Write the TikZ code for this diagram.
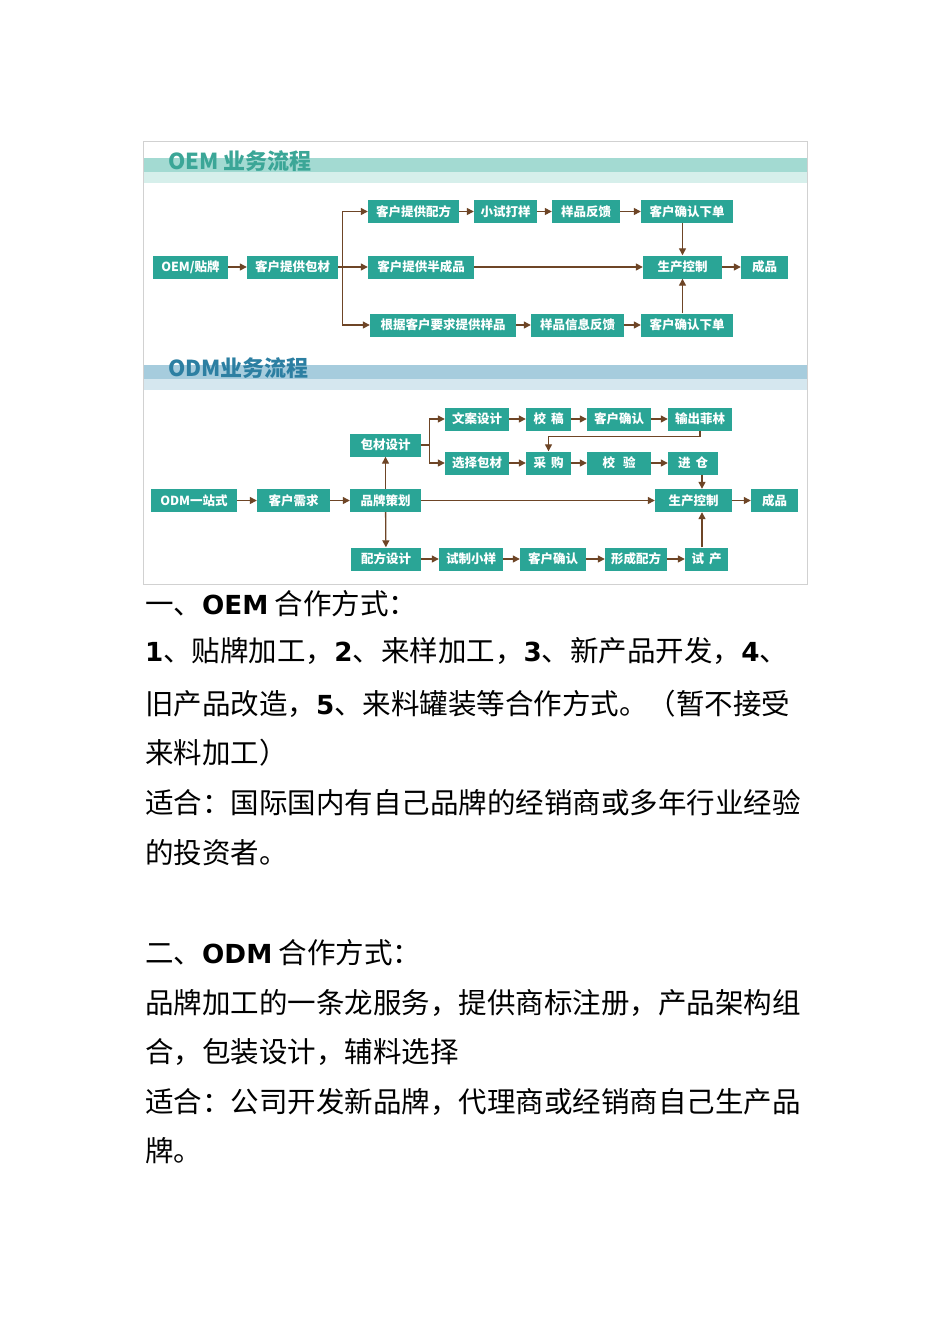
\documentclass[tikz,border=0pt]{standalone}
\usepackage{fontspec}
\setmainfont{Noto Sans CJK SC}
\newfontfamily\numfont{DejaVu Sans}[Scale=0.92]
\usetikzlibrary{arrows.meta}
\definecolor{boxteal}{HTML}{2AA596}
\definecolor{flowbrown}{HTML}{6E4526}
\definecolor{oemband}{HTML}{A3DAD2}
\definecolor{oemlight}{HTML}{D6EFEB}
\definecolor{odmband}{HTML}{A6CCDD}
\definecolor{odmlight}{HTML}{D5E7EF}
\definecolor{oemtitle}{HTML}{3BA697}
\definecolor{odmtitle}{HTML}{2C7FA2}
\tikzset{
  procbox/.style={fill=boxteal, text=white, inner sep=0pt, minimum height=23pt,
    font=\fontsize{12.5}{12.5}\selectfont\bfseries},
  flowline/.style={flowbrown, line width=1.3pt},
  flow/.style={flowline, -{Triangle[length=7pt,width=7pt]}},
  bandtitle/.style={anchor=west, inner sep=0pt, font=\fontsize{22}{22}\selectfont\bfseries},
  bodyline/.style={anchor=base west, inner sep=0pt, font=\fontsize{28.5}{30}\selectfont},
}
\newcommand{\bnum}[1]{{\numfont\bfseries #1}}

\begin{document}
\begin{tikzpicture}[x=1pt, y=-1pt]
    \useasboundingbox[fill=white] (0,0) rectangle (950,1344);
    \draw[black!18] (143,141) rectangle (807,584);

    % OEM flow
    \fill[oemband] (143.5,158) rectangle (806.5,172);
    \fill[oemlight] (143.5,172) rectangle (806.5,183);
    \node[bandtitle, text=oemtitle] (oem-title) at (168,161) {OEM 业务流程};

    \node[procbox, minimum width=75pt] (oem) at (190.5,267) {OEM/贴牌};
    \foreach \name/\x/\y/\w/\txt in {
        baocai/292.5/267/91/客户提供包材,
        peifang/413.5/211.5/91/客户提供配方,
        xiaoshi/505.5/211.5/63/小试打样,
        fankui/586/211.5/68/样品反馈,
        queren-1/687/211.5/92/客户确认下单,
        banchengpin/421/267/106/客户提供半成品,
        shengchan-1/682.5/267/79/生产控制,
        chengpin-1/764.5/267/47/成品,
        yangpin/443/325/146/根据客户要求提供样品,
        xinxi/577.5/325/93/样品信息反馈,
        queren-2/687/325/92/客户确认下单}
        \node[procbox, minimum width=\w pt] (\name) at (\x,\y) {\txt};

    \draw[flow] (oem) -- (baocai);
    \draw[flowline] (baocai.east) -- ++(4,0) coordinate (oem-split);
    \draw[flowline] (oem-split |- peifang) -- (oem-split |- yangpin);
    \foreach \target in {peifang,banchengpin,yangpin}
        \draw[flow] (oem-split |- \target) -- (\target);
    \draw[flow] (peifang) -- (xiaoshi);
    \draw[flow] (xiaoshi) -- (fankui);
    \draw[flow] (fankui) -- (queren-1);
    \draw[flow] (yangpin) -- (xinxi);
    \draw[flow] (xinxi) -- (queren-2);
    \draw[flow] (shengchan-1 |- queren-1.south) -- (shengchan-1.north);
    \draw[flow] (shengchan-1 |- queren-2.north) -- (shengchan-1.south);
    \draw[flow] (banchengpin) -- (shengchan-1);
    \draw[flow] (shengchan-1) -- (chengpin-1);

    % ODM flow
    \fill[odmband] (143.5,365) rectangle (806.5,379);
    \fill[odmlight] (143.5,379) rectangle (806.5,390);
    \node[bandtitle, text=odmtitle] (odm-title) at (168,368) {ODM业务流程};

    \foreach \name/\x/\y/\w/\txt in {
        odm/194/500.5/86/ODM一站式,
        xuqiu/293.5/500.5/73/客户需求,
        cehua/385.5/500.5/71/品牌策划,
        baocaisheji/385.5/445/71/包材设计,
        wenan/477/419/64/文案设计,
        jiaogao/548.5/419/45/校\hspace{5pt}稿,
        queren-3/619/419/64/客户确认,
        feilin/700/419/64/输出菲林,
        xuanze/477/463/64/选择包材,
        caigou/548.5/463/45/采\hspace{5pt}购,
        jiaoyan/619/463/64/校\hspace{8pt}验,
        jincang/693/463/50/进\hspace{5pt}仓,
        shengchan-2/693.5/500.5/77/生产控制,
        chengpin-2/774.5/500.5/47/成品,
        peifangsj/386/559/70/配方设计,
        shizhi/471/559/64/试制小样,
        queren-4/553/559/66/客户确认,
        xingcheng/636/559/62/形成配方,
        shichan/706.5/559/43/试\hspace{5pt}产}
        \node[procbox, minimum width=\w pt] (\name) at (\x,\y) {\txt};

    \draw[flow] (odm) -- (xuqiu);
    \draw[flow] (xuqiu) -- (cehua);
    \draw[flow] (cehua) -- (baocaisheji);
    \draw[flow] (cehua) -- (peifangsj);
    \draw[flowline] (baocaisheji.east) -- ++(8,0) coordinate (odm-split);
    \draw[flowline] (odm-split |- wenan) -- (odm-split |- xuanze);
    \draw[flow] (odm-split |- wenan) -- (wenan);
    \draw[flow] (odm-split |- xuanze) -- (xuanze);
    \draw[flow] (wenan) -- (jiaogao);
    \draw[flow] (jiaogao) -- (queren-3);
    \draw[flow] (queren-3) -- (feilin);
    \draw[flow] (feilin.south) -- ++(0,6) -| (caigou.north);
    \draw[flow] (xuanze) -- (caigou);
    \draw[flow] (caigou) -- (jiaoyan);
    \draw[flow] (jiaoyan) -- (jincang);
    \draw[flow] ([xshift=9pt]jincang.south) -- ([xshift=9pt]jincang.south |- shengchan-2.north);
    \draw[flow] (cehua) -- (shengchan-2);
    \draw[flow] (shengchan-2) -- (chengpin-2);
    \draw[flow] (peifangsj) -- (shizhi);
    \draw[flow] (shizhi) -- (queren-4);
    \draw[flow] (queren-4) -- (xingcheng);
    \draw[flow] (xingcheng) -- (shichan);
    \draw[flow] ([xshift=-4.5pt]shichan.north) -- ([xshift=-4.5pt]shichan.north |- shengchan-2.south);

    % text below
    \node[bodyline] (oem-head) at (145,614) {一、\bnum{OEM} 合作方式：};
    \node[bodyline] (oem-text-1) at (145,661) {\bnum{1}、贴牌加工，\bnum{2}、来样加工，\bnum{3}、新产品开发，\bnum{4}、};
    \node[bodyline] (oem-text-2) at (145,714) {旧产品改造，\bnum{5}、来料罐装等合作方式。（暂不接受};
    \node[bodyline] (oem-text-3) at (145,763) {来料加工）};
    \node[bodyline] (oem-text-4) at (145,813) {适合：国际国内有自己品牌的经销商或多年行业经验};
    \node[bodyline] (oem-text-5) at (145,863) {的投资者。};
    \node[bodyline] (odm-head) at (145,963) {二、\bnum{ODM} 合作方式：};
    \node[bodyline] (odm-text-1) at (145,1013) {品牌加工的一条龙服务，提供商标注册，产品架构组};
    \node[bodyline] (odm-text-2) at (145,1062) {合，包装设计，辅料选择};
    \node[bodyline] (odm-text-3) at (145,1112) {适合：公司开发新品牌，代理商或经销商自己生产品};
    \node[bodyline] (odm-text-4) at (145,1161) {牌。};
\end{tikzpicture}
\end{document}
